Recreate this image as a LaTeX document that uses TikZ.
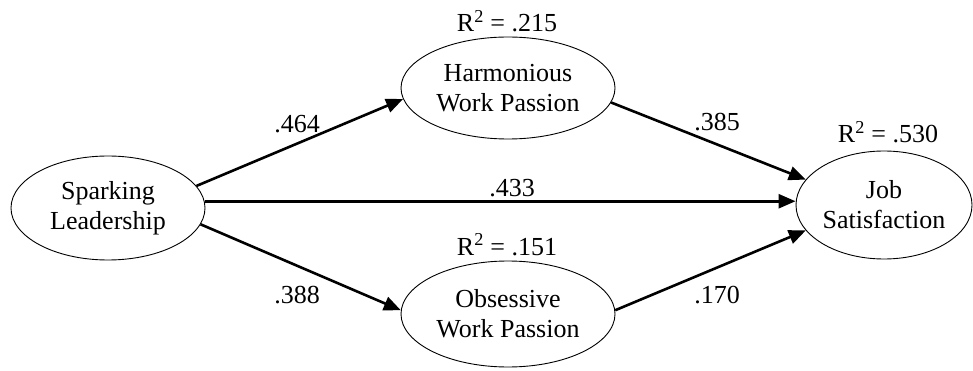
\documentclass[tikz,border=0pt]{standalone}
\usepackage{fontspec}
\setmainfont{Liberation Serif}
\usetikzlibrary{arrows.meta,shapes.geometric}
\begin{document}
\begin{tikzpicture}[x=1pt, y=-1pt,
			latente/.style={ellipse, draw=black, line width=0.9pt, inner sep=0pt, align=center, font=\fontsize{26}{30}\selectfont},
			percorso/.style={-{Triangle[length=17pt, width=14pt]}, line width=2.6pt, black},
			coeff/.style={anchor=base, inner sep=0pt, font=\fontsize{26}{30}\selectfont},
			]
			\useasboundingbox (0,0) rectangle (973,371);
			
			% variabili latenti
			\node[latente, minimum width=194pt, minimum height=104pt] (spark) at (108,208) {Sparking\\Leadership};
			\node[latente, minimum width=214pt, minimum height=102pt] (harm) at (508,88) {Harmonious\\Work Passion};
			\node[latente, minimum width=214pt, minimum height=106pt] (obs) at (508,314) {Obsessive\\Work Passion};
			\node[latente, minimum width=176pt, minimum height=108pt] (job) at (884,205) {Job\\Satisfaction};
			
			% percorsi
			\draw[percorso] (spark.14) -- (harm.186);
			\draw[percorso] (spark.4) -- (spark.4 -| job.west);
			\draw[percorso] (spark.-10) -- (obs.178);
			\draw[percorso] (harm.-8) -- (job.162);
			\draw[percorso] (obs.2) -- (job.198);
			
			% coefficienti dei percorsi
			\node[coeff] (c464) at (297,133) {.464};
			\node[coeff] (c433) at (512,197) {.433};
			\node[coeff] (c388) at (297,303) {.388};
			\node[coeff] (c385) at (717,131) {.385};
			\node[coeff] (c170) at (717,303) {.170};
			
			% varianza spiegata
			\node[coeff] (r215) at (507,32) {R\textsuperscript{2} = .215};
			\node[coeff] (r151) at (507,255) {R\textsuperscript{2} = .151};
			\node[coeff] (r530) at (888,143) {R\textsuperscript{2} = .530};
		\end{tikzpicture}
\end{document}
